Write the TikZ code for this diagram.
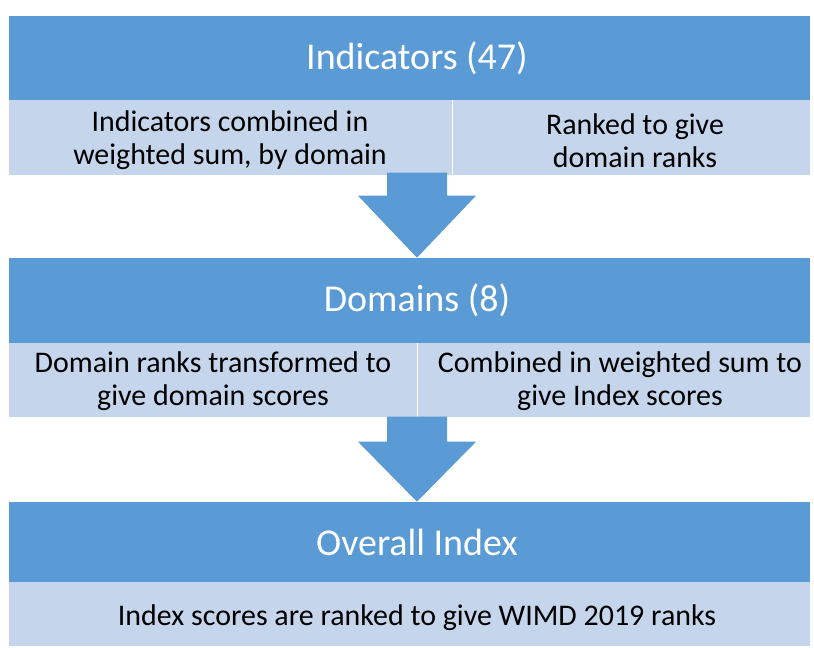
\documentclass[tikz,border=0pt]{standalone}
\usepackage{fontspec}
\setmainfont{Carlito}
\definecolor{wimdblue}{HTML}{5B9BD5}
\definecolor{wimdpale}{HTML}{C5D5EB}

\begin{document}
\begin{tikzpicture}[baseline=(current  bounding  box.center),
  headbar/.style={rectangle, fill=wimdblue, inner sep=0, minimum width=20.025cm},
  palecell/.style={rectangle, fill=wimdpale, inner sep=0},
  headtext/.style={text=white, font=\fontsize{27}{30}\selectfont},
  celltext/.style={align=center, font=\fontsize{21.3}{23.5}\selectfont}]
\useasboundingbox (0,0) rectangle (20.35,16.2);

% bars and cells
\node [headbar, minimum height=2.1cm] (h1) at (10.2375,14.75) {};
\node [palecell, minimum width=11.075cm, minimum height=1.875cm] (c1a) at (5.7625,12.7625) {};
\node [palecell, minimum width=8.95cm, minimum height=1.875cm] (c1b) at (15.775,12.7625) {};
\node [headbar, minimum height=2.125cm] (h2) at (10.2375,8.6875) {};
\node [palecell, minimum width=10.2cm, minimum height=1.85cm] (c2a) at (5.325,6.7) {};
\node [palecell, minimum width=9.825cm, minimum height=1.85cm] (c2b) at (15.3375,6.7) {};
\node [headbar, minimum height=2cm] (h3) at (10.2375,2.65) {};
\node [palecell, minimum width=20.025cm, minimum height=1.6cm] (c3) at (10.2375,0.85) {};

\draw[white, line width=.4pt] (c1a.north east) -- (c1a.south east);
\draw[white, line width=.4pt] (c2a.north east) -- (c2a.south east);

% texts
\node [headtext] (t1) at (10.425,14.75) {Indicators (47)};
\node [headtext] (t2) at (10.425,8.6875) {Domains (8)};
\node [headtext] (t3) at (10.425,2.65) {Overall Index};
\node [celltext] (s1a) at (5.75,12.69) {Indicators combined in\\weighted sum, by domain};
\node [celltext] (s1b) at (15.875,12.69) {Ranked to give\\domain ranks};
\node [celltext] (s2a) at (5.325,6.66) {Domain ranks transformed to\\give domain scores};
\node [celltext] (s2b) at (15.5,6.66) {Combined in weighted sum to\\give Index scores};
\node [celltext] (s3) at (10.425,0.75) {Index scores are ranked to give WIMD 2019 ranks};

% block arrows
\coordinate (tip1) at (h2.north -| t1);
\coordinate (tip2) at (h3.north -| t2);
\fill[wimdblue] (tip1) -- ++(1.475,1.55) -- ++(-0.725,0) -- ++(0,0.575) -- ++(-1.5,0) -- ++(0,-0.575) -- ++(-0.725,0) -- cycle;
\fill[wimdblue] (tip2) -- ++(1.475,1.5) -- ++(-0.725,0) -- ++(0,0.625) -- ++(-1.5,0) -- ++(0,-0.625) -- ++(-0.725,0) -- cycle;
\end{tikzpicture}
\end{document}
